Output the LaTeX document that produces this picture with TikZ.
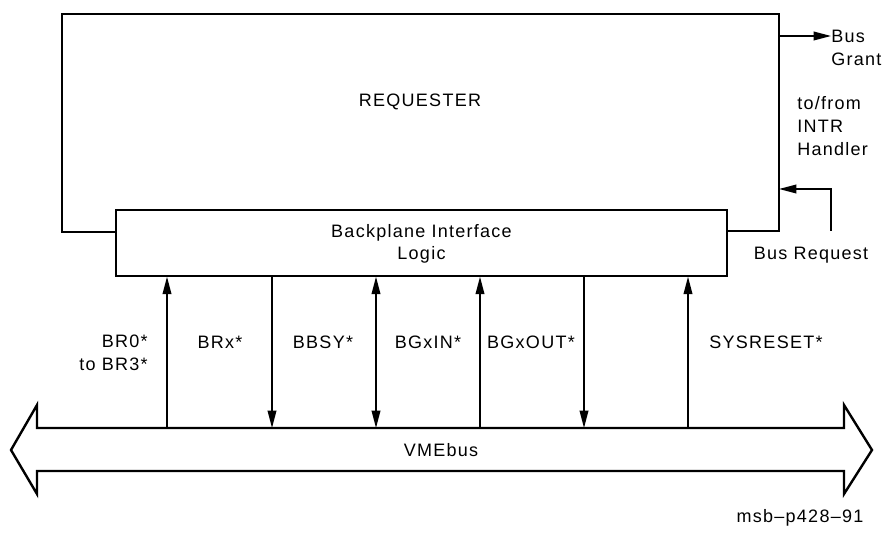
\documentclass[tikz,border=0pt]{standalone}
\usepackage{fontspec}
\setmainfont{Liberation Sans}[LetterSpace=7]
\usetikzlibrary{arrows.meta}
\begin{document}
\begin{tikzpicture}[x=0.75pt,y=-0.75pt,
  line/.style={line width=1.1pt},
  tip/.style={},
  sig/.style={line width=1.1pt,-{Triangle[length=13pt,width=6.5pt]}},
  sigboth/.style={line width=1.1pt,{Triangle[length=13pt,width=6.5pt]}-{Triangle[length=13pt,width=6.5pt]}},
  lbl/.style={font=\fontsize{13.5pt}{17pt}\selectfont,inner sep=0pt,align=center},
  lblr/.style={font=\fontsize{13.5pt}{17pt}\selectfont,inner sep=0pt,align=right},
  lbll/.style={font=\fontsize{13.5pt}{17pt}\selectfont,inner sep=0pt,align=left},
  box/.style={draw,line width=1.1pt,minimum width=458.25pt,minimum height=49.5pt,inner sep=0pt}]
\useasboundingbox (0,0) rectangle (888,545);
% requester outline
\draw[line,line join=miter] (116,232) -- (62,232) -- (62,14) -- (779,14) -- (779,231) -- (727,231);
\node[lbl] (req) at (420,102) {REQUESTER};
% backplane box
\node[box] (bpl) at (421.5,243) {};
\node[lbl] (bpltxt) at (421.5,244) {Backplane Interface\\Logic};
% bus arrow
\draw[line width=1.8pt,line join=miter] (37,428) -- (844,428) -- (844,405) -- (872,450) -- (844,494) -- (844,471) -- (37,471) -- (37,494) -- (11,450) -- (37,405) -- cycle;
\node[lbl] (vme) at (441,450) {VMEbus};
% bus tap coordinates
\coordinate (b1) at (167,428);
\coordinate (b2) at (272,428);
\coordinate (b3) at (376,428);
\coordinate (b4) at (480,428);
\coordinate (b5) at (584,428);
\coordinate (b6) at (688,428);
\draw[sig] (b1) -- (b1 |- bpl.south);
\draw[sig] (b2 |- bpl.south) -- (b2);
\draw[sigboth] (b3 |- bpl.south) -- (b3);
\draw[sig] (b4) -- (b4 |- bpl.south);
\draw[sig] (b5 |- bpl.south) -- (b5);
\draw[sig] (b6) -- (b6 |- bpl.south);
% signal labels
\node[lblr,anchor=east] (l1) at (148,353) {BR0*\\to BR3*};
\node[lbl] (l2) at (220,342) {BRx*};
\node[lbl] (l3) at (323,342) {BBSY*};
\node[lbl] (l4) at (428,342) {BGxIN*};
\node[lbl] (l5) at (531,342) {BGxOUT*};
\node[lbl] (l6) at (766,342) {SYSRESET*};
% right side signals
\coordinate (rg) at (779,36);
\node[lbll,anchor=west] (bg) at (831,48) {Bus\\Grant};
\draw[sig] (rg) -- (rg -| bg.west);
\node[lbll,anchor=west] (intr) at (797,126) {to/from\\INTR\\Handler};
\node[lbl] (breq) at (811,255) {Bus Request};
\coordinate (rq) at (779,189);
\draw[sig] (831,231) -- (831,189) -- (rq);
% figure id
\node[lbl] (fid) at (800,518) {msb--p428--91};
\end{tikzpicture}
\end{document}
